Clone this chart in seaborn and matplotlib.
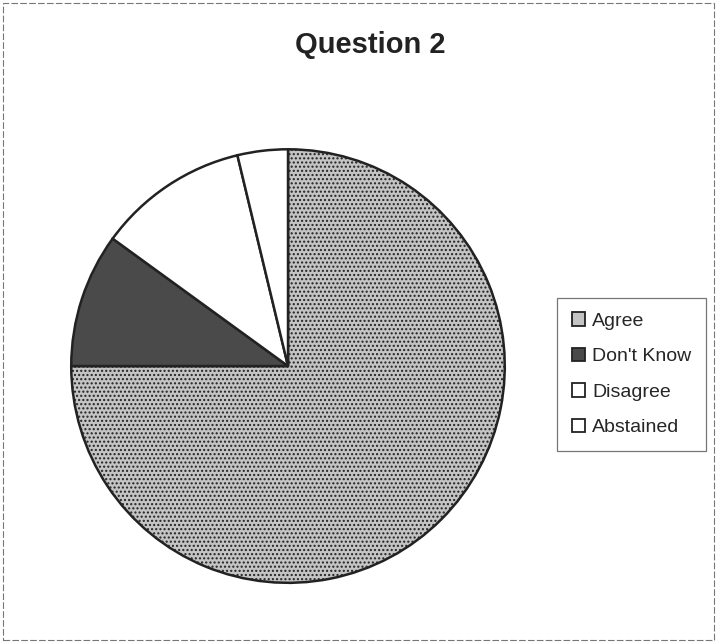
import matplotlib
matplotlib.use("Agg")
import matplotlib.pyplot as plt
import seaborn as sns
from matplotlib.patches import Rectangle

sns.set_theme(style="white")
plt.rcParams["font.family"] = ["Liberation Sans", "DejaVu Sans"]

# data
labels = ["Agree", "Don't Know", "Disagree", "Abstained"]
votes = [60, 8, 9, 3]
colors = ["#c4c4c4", "#4a4a4a", "#ffffff", "#ffffff"]

fig = plt.figure(figsize=(7.17, 6.43), dpi=100)
ax = fig.add_axes([0.0962, 0.0902, 0.611, 0.681])

wedges, _ = ax.pie(
    votes,
    colors=colors,
    startangle=90,
    counterclock=False,
    wedgeprops=dict(edgecolor="#222222", linewidth=1.8),
)
# stipple look on the light slice
wedges[0].set_hatch("....")
ax.set_xlim(-1.01, 1.01)
ax.set_ylim(-1.01, 1.01)
ax.set_aspect("equal")

fig.text(0.516, 0.93, "Question 2", ha="center", va="center",
         fontsize=21, fontweight="bold", color="#222222")

leg = fig.legend(
    wedges, labels,
    loc="upper left", bbox_to_anchor=(0.777, 0.537),
    fontsize=14, frameon=True, fancybox=False,
    handlelength=0.7, handleheight=0.7, handletextpad=0.35,
    labelspacing=0.92, borderpad=0.75, borderaxespad=0,
)
leg.get_frame().set_edgecolor("#555555")
leg.get_frame().set_linewidth(0.9)
for h in leg.legend_handles:
    h.set_hatch(None)
    h.set_linewidth(1.3)

# outer border of the chart area
fig.patches.append(Rectangle((0.004, 0.004), 0.992, 0.992, transform=fig.transFigure,
                             fill=False, edgecolor="#777777", linewidth=0.8,
                             linestyle=(0, (6, 2))))

fig.savefig("out.png", dpi=100)
